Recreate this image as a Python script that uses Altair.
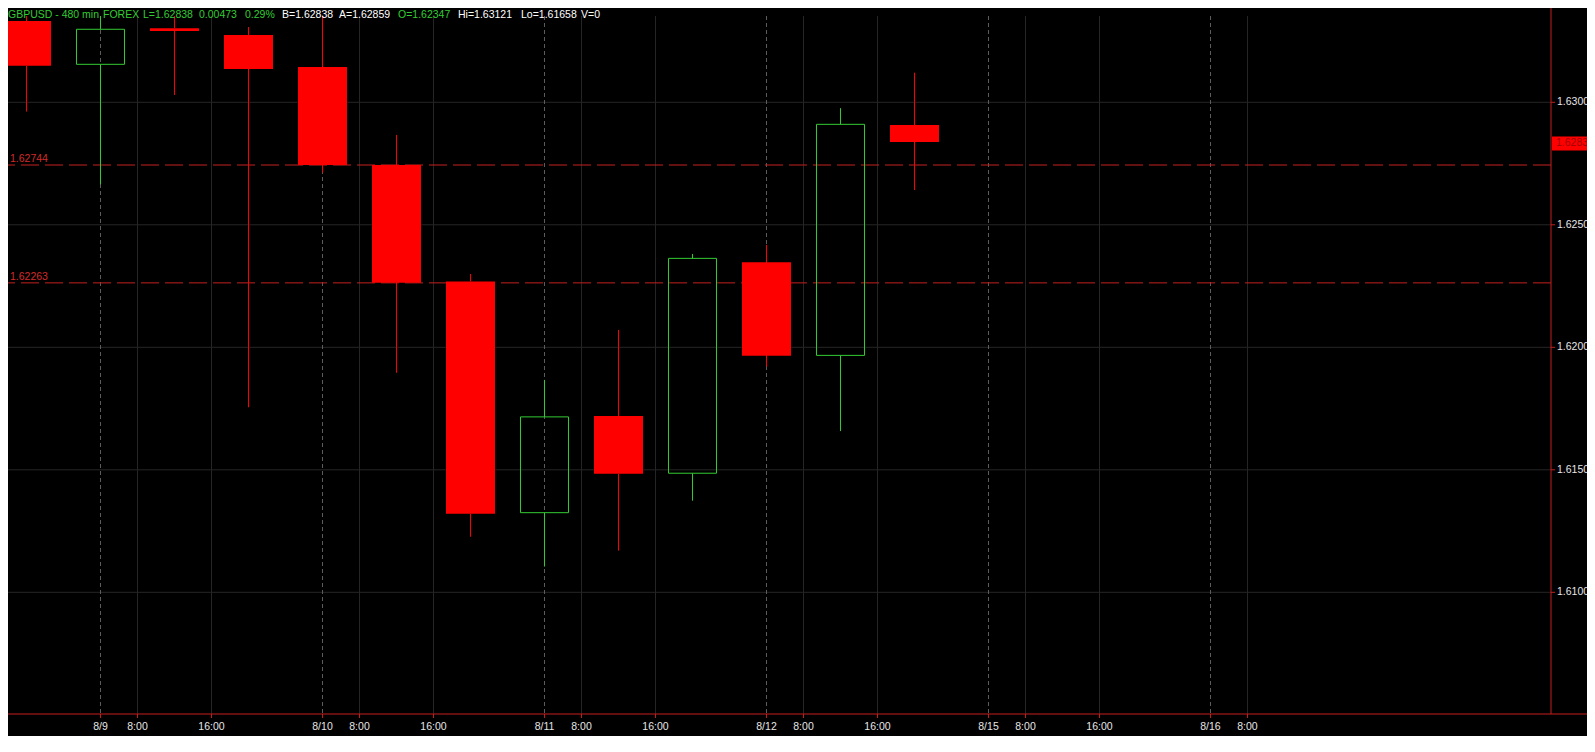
import altair as alt
import pandas as pd

# ---------------- data ----------------
times = ["8/8 16:00", "8/9 0:00", "8/9 8:00", "8/9 16:00", "8/10 0:00", "8/10 8:00",
         "8/10 16:00", "8/11 0:00", "8/11 8:00", "8/11 16:00", "8/12 0:00", "8/12 8:00",
         "8/12 16:00"]
opens = [1.63332, 1.63155, 1.63302, 1.63275, 1.63144, 1.62744, 1.62269,
         1.61325, 1.61720, 1.61486, 1.62347, 1.61967, 1.62907]
highs = [1.63400, 1.63400, 1.63400, 1.63307, 1.63400, 1.62867, 1.62299,
         1.61867, 1.62071, 1.62381, 1.62418, 1.62976, 1.63121]
lows = [1.62962, 1.62665, 1.63030, 1.61755, 1.62713, 1.61896, 1.61227,
        1.61105, 1.61170, 1.61374, 1.61921, 1.61658, 1.62642]
closes = [1.63149, 1.63298, 1.63291, 1.63136, 1.62744, 1.62263, 1.61321,
          1.61716, 1.61484, 1.62363, 1.61966, 1.62910, 1.62838]

level_lines = [1.62744, 1.62263]
last_price = [1.62838]
y_ticks = [1.610, 1.615, 1.620, 1.625, 1.630]
x_tick_pos = [1, 1.5, 2.5, 4, 4.5, 5.5, 7, 7.5, 8.5, 10, 10.5, 11.5, 13, 13.5, 14.5, 16, 16.5]
x_tick_labels = ["8/9", "8:00", "16:00", "8/10", "8:00", "16:00", "8/11", "8:00", "16:00",
                 "8/12", "8:00", "16:00", "8/15", "8:00", "16:00", "8/16", "8:00"]

header_words = ["GBPUSD - 480 min", "FOREX", "L=1.62838", "0.00473", "0.29%",
                "B=1.62838", "A=1.62859", "O=1.62347", "Hi=1.63121", "Lo=1.61658", "V=0"]
header_colors = ["green", "green", "green", "green", "green",
                 "white", "white", "green", "white", "white", "white"]
header_x = [0, 95, 135, 191, 237, 274, 331, 390, 450, 513, 573]

# ---------------- styling ----------------
W, H = 1543, 698
X_DOMAIN = [-0.25, 20.6014]
Y_DOMAIN = [1.605033, 1.633522]
RED = "#ff0000"
GREEN = "#33cc33"
AXIS_RED = "#c81e1e"
GRID = "#262626"
LABEL = "#e6e6e6"
FONT = "Liberation Sans"
FS = 10.5

df = pd.DataFrame({"t": times, "idx": list(range(len(times))), "open": opens,
                   "high": highs, "low": lows, "close": closes})
df["top"] = df[["open", "close"]].max(axis=1)
df["bot"] = df[["open", "close"]].min(axis=1)
df["dir"] = ["up" if c > o else "down" for o, c in zip(opens, closes)]

xs = alt.Scale(domain=X_DOMAIN, nice=False, zero=False, padding=0)
ys = alt.Scale(domain=Y_DOMAIN, nice=False, zero=False, padding=0)
color_scale = alt.Scale(domain=["up", "down"], range=[GREEN, RED])

ticks_df = pd.DataFrame({"pos": x_tick_pos, "label": x_tick_labels})
ticks_df["major"] = ["/" in s for s in x_tick_labels]
ygrid_df = pd.DataFrame({"y": y_ticks})
levels_df = pd.DataFrame({"level": level_lines})
last_df = pd.DataFrame({"price": last_price})
one = pd.DataFrame({"a": [0]})

X = lambda f: alt.X(f, scale=xs, axis=None)
Y = lambda f: alt.Y(f, scale=ys, axis=None)

# gridlines
vgrid_minor = alt.Chart(ticks_df).transform_filter("!datum.major").mark_rule(
    color=GRID, strokeWidth=1).encode(x=X("pos:Q"))
vgrid_major = alt.Chart(ticks_df).transform_filter("datum.major").mark_rule(
    color="#5e5e5e", strokeWidth=1, strokeDash=[4, 3]).encode(x=X("pos:Q"))
hgrid = alt.Chart(ygrid_df).mark_rule(color=GRID, strokeWidth=1).encode(y=Y("y:Q"))

# level lines
levels = alt.Chart(levels_df).mark_rule(color="#c42020", strokeWidth=1, strokeDash=[18, 6]).encode(
    y=Y("level:Q"))
level_text = alt.Chart(levels_df).mark_text(
    align="left", baseline="alphabetic", dy=-3, color="#d42a2a", font=FONT, fontSize=FS
).encode(x=alt.value(2), y=Y("level:Q"), text=alt.Text("level:Q", format=".5f"))

# candles
wick_up = alt.Chart(df).mark_rule(strokeWidth=1, clip=True).encode(
    x=X("idx:Q"), y=Y("high:Q"), y2="top:Q",
    color=alt.Color("dir:N", scale=color_scale, legend=None))
wick_dn = alt.Chart(df).mark_rule(strokeWidth=1, clip=True).encode(
    x=X("idx:Q"), y=Y("bot:Q"), y2="low:Q",
    color=alt.Color("dir:N", scale=color_scale, legend=None))
body_red = alt.Chart(df).transform_filter("datum.dir == 'down'").mark_bar(
    color=RED, size=49, clip=True).encode(x=X("idx:Q"), y=Y("open:Q"), y2="close:Q")
body_green = alt.Chart(df).transform_filter("datum.dir == 'up'").mark_bar(
    filled=False, stroke=GREEN, strokeWidth=1, size=48, clip=True).encode(
    x=X("idx:Q"), y=Y("open:Q"), y2="close:Q")

# hand-drawn axes (red lines, red ticks, light labels)
axis_right = alt.Chart(one).mark_rule(color=AXIS_RED, strokeWidth=1).encode(
    x=alt.value(W), y=alt.value(-8), y2=alt.value(H))
axis_bottom = alt.Chart(one).mark_rule(color=AXIS_RED, strokeWidth=1).encode(
    x=alt.value(-8), x2=alt.value(W + 60), y=alt.value(H))
x_ticks = alt.Chart(ticks_df).mark_rule(color=AXIS_RED, strokeWidth=1).encode(
    x=X("pos:Q"), y=alt.value(H), y2=alt.value(H + 4))
x_labels = alt.Chart(ticks_df).mark_text(
    align="center", baseline="alphabetic", color=LABEL, font=FONT, fontSize=FS
).encode(x=X("pos:Q"), y=alt.value(H + 16), text="label:N")
y_tick_marks = alt.Chart(ygrid_df).mark_rule(color=AXIS_RED, strokeWidth=1).encode(
    y=Y("y:Q"), x=alt.value(W), x2=alt.value(W + 4))
y_labels = alt.Chart(ygrid_df).mark_text(
    align="left", baseline="middle", color=LABEL, font=FONT, fontSize=FS
).encode(y=Y("y:Q"), x=alt.value(W + 6), text=alt.Text("y:Q", format=".5f"))

# last price tag
tag = alt.Chart(last_df).mark_rule(color=RED, strokeWidth=14, yOffset=1.5).encode(
    x=alt.value(W + 1), x2=alt.value(W + 60), y=Y("price:Q"))
tag_text = alt.Chart(last_df).mark_text(
    align="left", baseline="middle", color="#a00000", font=FONT, fontSize=FS, dy=1.5
).encode(x=alt.value(W + 5), y=Y("price:Q"), text=alt.Text("price:Q", format=".5f"))

# header text (one word group per segment)
header_layers = []
for word, col, hx in zip(header_words, header_colors, header_x):
    header_layers.append(
        alt.Chart(one).mark_text(
            align="left", baseline="alphabetic", font=FONT, fontSize=FS,
            color=GREEN if col == "green" else "#ffffff", text=word
        ).encode(x=alt.value(hx), y=alt.value(1.5))
    )

chart = alt.layer(
    hgrid, vgrid_minor, vgrid_major, levels, level_text,
    wick_up, wick_dn, body_red, body_green,
    axis_right, axis_bottom, x_ticks, x_labels, y_tick_marks, y_labels,
    tag, tag_text, *header_layers
).properties(
    width=W, height=H,
    autosize=alt.AutoSizeParams(type="none"),
    padding={"left": 0, "top": 8, "right": 36, "bottom": 22},
    background="#000000",
).configure_view(stroke=None)

chart.save("out.html", embed_options={"renderer": "svg", "actions": False})
